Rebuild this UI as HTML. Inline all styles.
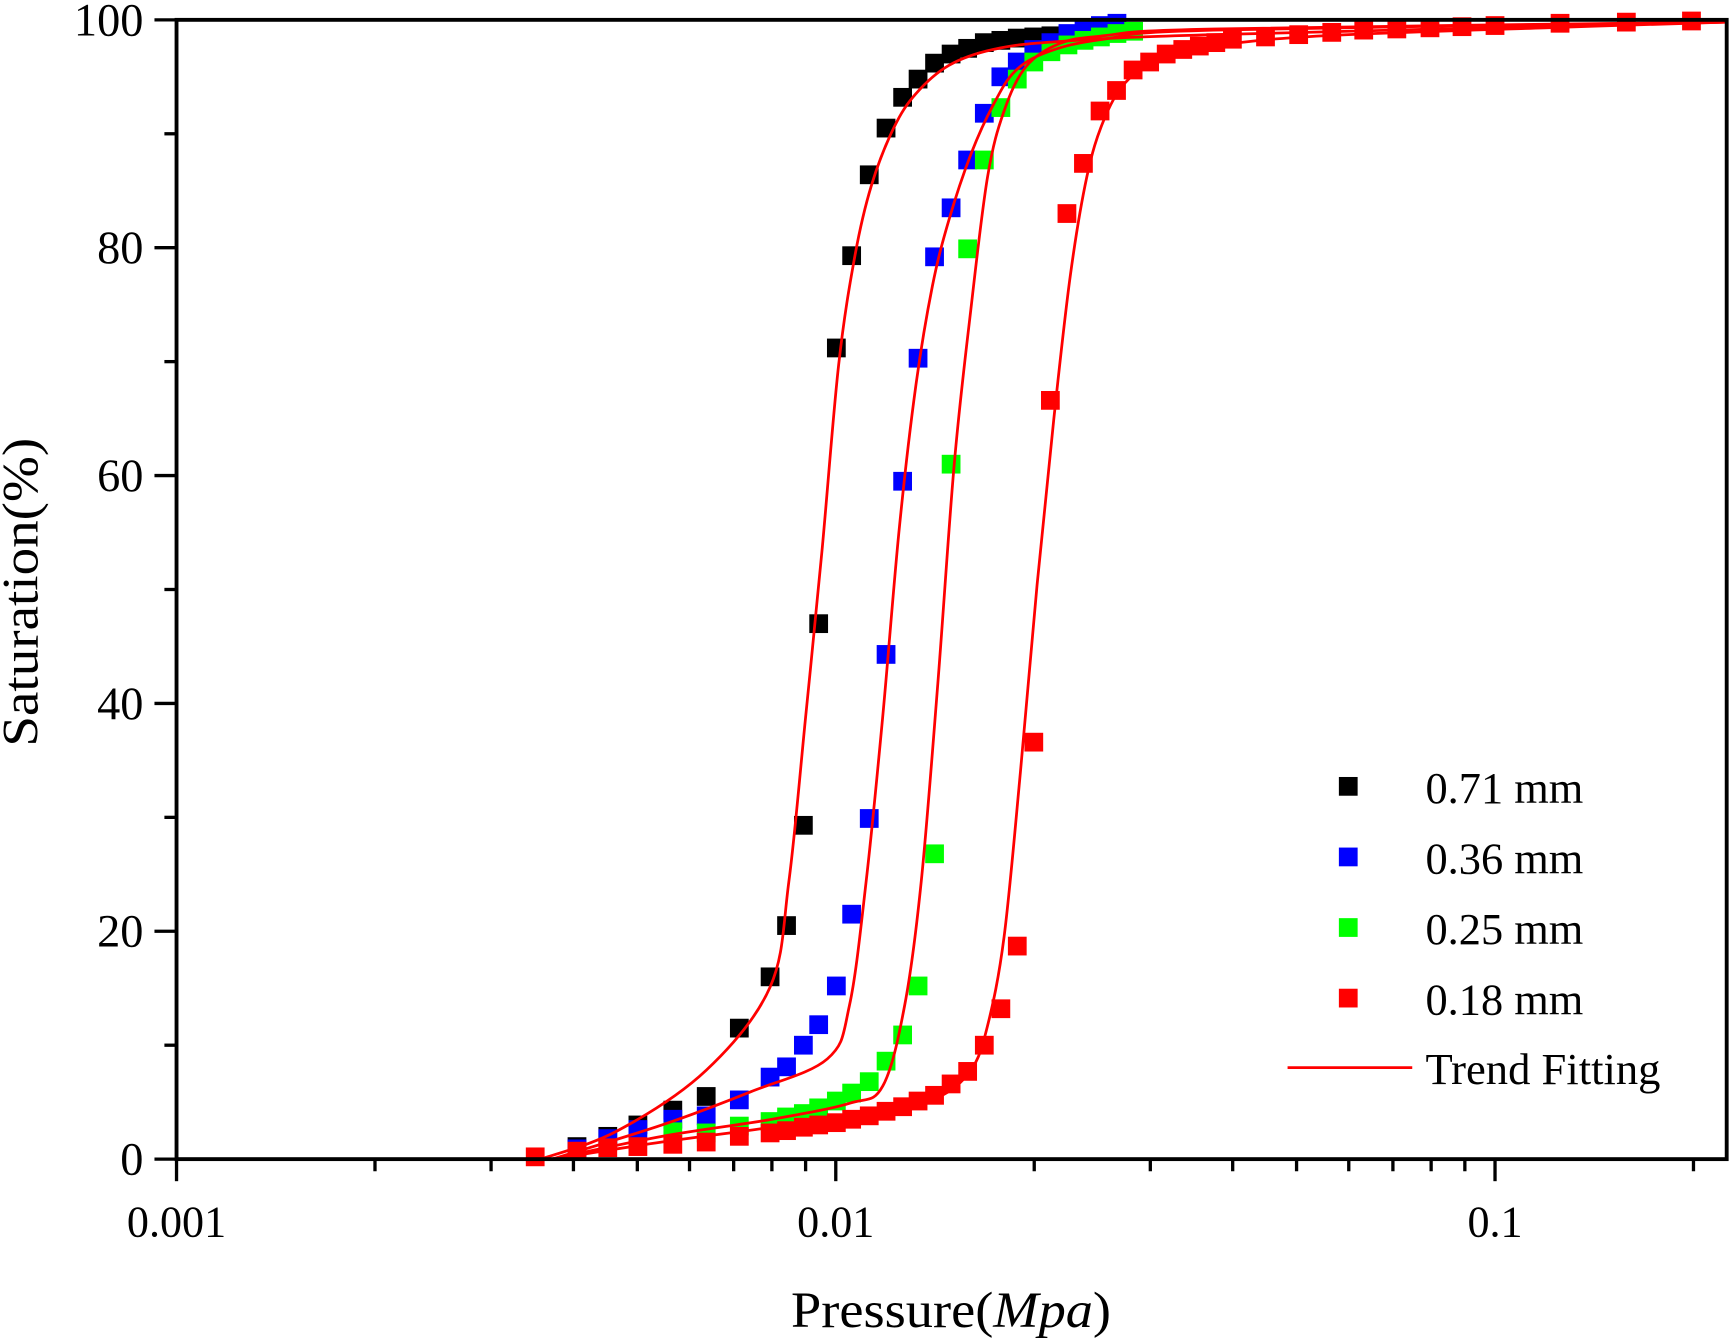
<!DOCTYPE html>
<html><head><meta charset="utf-8"><style>
html,body{margin:0;padding:0;background:#fff;}
svg{display:block;}
text{font-family:"Liberation Serif",serif;fill:#000;}
</style></head><body>
<svg id="chart" width="1730" height="1340" viewBox="0 0 1568 1215" preserveAspectRatio="none" xmlns="http://www.w3.org/2000/svg">
<g id="marks"></g>
<g id="axes"></g>
</svg>
<script>
const seriesNames=["0.71 mm","0.36 mm","0.25 mm","0.18 mm"];
const seriesColors=["#000000","#0000ff","#00ff00","#ff0000"];
const blackP=[0.00405,0.00451,0.00501,0.00566,0.00636,0.00714,0.00795,0.00842,0.00893,0.00942,0.01002,0.01057,0.01124,0.01192,0.01263,0.01333,0.01412,0.01496,0.01585,0.0168,0.0178,0.01885,0.01997,0.0212,0.0225,0.0238,0.0252];
const blackS=[1.1,2,3,4.3,5.5,11.5,16,20.5,29.3,47,71.2,79.3,86.4,90.5,93.2,94.8,96.2,97,97.5,98,98.2,98.4,98.5,98.6,98.7,98.7,98.8];
const blueP=[0.00405,0.00451,0.00501,0.00566,0.00636,0.00714,0.00795,0.00842,0.00893,0.00942,0.01002,0.01057,0.01124,0.01192,0.01263,0.01333,0.01412,0.01496,0.01585,0.0168,0.0178,0.01885,0.01997,0.0212,0.0225,0.0238,0.0252,0.0267];
const blueS=[0.9,1.8,2.6,3.5,3.8,5.2,7.2,8.1,10,11.8,15.2,21.5,29.9,44.3,59.5,70.3,79.2,83.5,87.7,91.8,95,96.3,97.4,98,98.8,99.2,99.5,99.7];
const greenP=[0.00566,0.00636,0.00714,0.00795,0.00842,0.00893,0.00942,0.01002,0.01057,0.01124,0.01192,0.01263,0.01333,0.01412,0.01496,0.01585,0.0168,0.0178,0.01885,0.01997,0.0212,0.0225,0.0238,0.0252,0.0267,0.0283];
const greenS=[2.4,2.3,2.9,3.3,3.7,4,4.5,5.1,5.8,6.8,8.6,10.9,15.2,26.8,61,79.9,87.7,92.3,94.8,96.3,97.2,97.8,98.2,98.5,98.8,99];
const redP=[0.0035,0.00405,0.00451,0.00501,0.00566,0.00636,0.00714,0.00795,0.00842,0.00893,0.00942,0.01002,0.01057,0.01124,0.01192,0.01263,0.01333,0.01412,0.01496,0.01585,0.0168,0.0178,0.01885,0.01997,0.02116,0.02242,0.02375,0.02517,0.02666,0.02825,0.02993,0.03171,0.0336,0.0356,0.03771,0.03996,0.04486,0.05037,0.05654,0.06322,0.07097,0.07968,0.08911,0.1,0.1255,0.1582,0.1986];
const redS=[0.2,0.7,1,1.1,1.3,1.5,2,2.3,2.5,2.8,3,3.2,3.5,3.8,4.2,4.6,5.1,5.6,6.6,7.7,10,13.2,18.7,36.6,66.6,83,87.4,92,93.8,95.6,96.3,97,97.4,97.7,98,98.3,98.5,98.7,98.9,99.1,99.2,99.3,99.4,99.5,99.7,99.8,99.9];
const fitBlackP=[0.00357,0.00467,0.00636,0.00795,0.00849,0.009,0.00953,0.0101,0.0107,0.01133,0.01224,0.01322,0.01484,0.01732,0.02182,0.03744,0.2246];
const fitBlackS=[0,2.5,7.8,15.1,24.4,38.8,53.4,69.7,79.4,85.5,90.5,93.5,96,97.4,98.1,98.7,99.8];
const fitBlueP=[0.00371,0.00545,0.00742,0.00971,0.01049,0.01112,0.01178,0.01248,0.01322,0.01401,0.01484,0.01603,0.01732,0.01871,0.021,0.02546,0.03744,0.2246];
const fitBlueS=[0,3,5.9,8.8,13.5,24.4,38.8,55.3,67.8,76.6,82.4,88.2,92.5,95.5,97.2,98.3,99.1,99.8];
const fitGreenP=[0.00371,0.00545,0.00801,0.01049,0.01178,0.01273,0.01348,0.01428,0.01513,0.01603,0.01699,0.018,0.01944,0.02182,0.02546,0.03744,0.2246];
const fitGreenS=[0,2,3.5,4.9,6.4,13.6,24.4,41.7,61.1,74.6,86.2,92,95.9,97.9,98.6,99.2,99.8];
const fitRedP=[0.00371,0.00545,0.00801,0.01178,0.01428,0.01603,0.01699,0.018,0.01906,0.0202,0.02141,0.02268,0.02403,0.02546,0.0275,0.03087,0.03744,0.05504,0.1189,0.2246];
const fitRedS=[0,1.5,2.8,4.2,5.4,7.8,11.7,19.5,34,50.4,64.9,77.5,86.2,91.1,94.5,96.4,97.7,98.6,99.3,99.8];
const yTicks=[0,20,40,60,80,100];
const xTicks=[0.001,0.01,0.1];
const xTickLabels=["0.001","0.01","0.1"];

const NS="http://www.w3.org/2000/svg";
const L=160,R=1565,T=18,B=1051;
const xMin=0.001,xMax=0.2246;
function xs(p){return L+(Math.log10(p)-Math.log10(xMin))/(Math.log10(xMax)-Math.log10(xMin))*(R-L);}
function ys(v){return B-v/100*(B-T);}
function mk(tag,attrs,parent){const e=document.createElementNS(NS,tag);for(const k in attrs)e.setAttribute(k,attrs[k]);parent.appendChild(e);return e;}
const marks=document.getElementById('marks');
const axes=document.getElementById('axes');

const scatter=[[blackP,blackS],[blueP,blueS],[greenP,greenS],[redP,redS]];
const fits=[[fitBlackP,fitBlackS],[fitBlueP,fitBlueS],[fitGreenP,fitGreenS],[fitRedP,fitRedS]];
const sz=17;
scatter.forEach((s,i)=>{
  const g=mk('g',{},marks);
  
  
  s[0].forEach((p,j)=>{
    const r=mk('rect',{x:xs(p)-sz/2,y:ys(s[1][j])-sz/2,width:sz,height:sz,fill:seriesColors[i]},g);
    
    
  });
});
function smooth(pts){
  let d='M'+pts[0][0]+','+pts[0][1];
  for(let i=0;i<pts.length-1;i++){
    const p0=pts[Math.max(0,i-1)],p1=pts[i],p2=pts[i+1],p3=pts[Math.min(pts.length-1,i+2)];
    const c1=[p1[0]+(p2[0]-p0[0])/6,p1[1]+(p2[1]-p0[1])/6];
    const c2=[p2[0]-(p3[0]-p1[0])/6,p2[1]-(p3[1]-p1[1])/6];
    d+=' C'+c1[0]+','+c1[1]+' '+c2[0]+','+c2[1]+' '+p2[0]+','+p2[1];
  }
  return d;
}
fits.forEach((f,i)=>{
  const pts=f[0].map((p,j)=>[xs(p),ys(f[1][j])]);
  const path=mk('path',{d:smooth(pts),fill:'none',stroke:'#ff0000','stroke-width':2.5},marks);
  
  
});

const frame=mk('rect',{x:L,y:T,width:R-L,height:B-T,fill:'none',stroke:'#000','stroke-width':3.5},axes);


for(let d=-3;d<=-1;d++){
  for(let m=1;m<=9;m++){
    const p=m*Math.pow(10,d); if(p>xMax)break;
    const x=xs(p);
    const t=mk('line',{x1:x,x2:x,y1:B,y2:B+(m===1?20:11),stroke:'#000','stroke-width':3},axes);
    
    
  }
}
xTicks.forEach((p,i)=>{
  const t=mk('text',{x:xs(p),y:B+70,'text-anchor':'middle','font-size':40},axes);
  t.textContent=xTickLabels[i];
  
  
});
for(let v=0;v<=100;v+=10){
  const y=ys(v);
  const t=mk('line',{x1:L,x2:L-(v%20===0?20:11),y1:y,y2:y,stroke:'#000','stroke-width':3},axes);
  
  
}
yTicks.forEach(v=>{
  const t=mk('text',{x:L-30,y:ys(v)+14,'text-anchor':'end','font-size':42},axes);
  t.textContent=v;
  
  
});
const xt=mk('text',{x:862,y:1203,'text-anchor':'middle','font-size':46,textLength:290,lengthAdjust:'spacingAndGlyphs'},axes);
xt.innerHTML='Pressure(<tspan font-style="italic">Mpa</tspan>)';


const yt=mk('text',{x:0,y:0,'text-anchor':'middle','font-size':46,textLength:280,lengthAdjust:'spacingAndGlyphs',transform:'translate(34,537) rotate(-90)'},axes);
yt.textContent='Saturation(%)';


const lg=mk('g',{},axes);


seriesNames.forEach((n,i)=>{
  const y=713+i*64;
  const r=mk('rect',{x:1222-sz/2,y:y-sz/2,width:sz,height:sz,fill:seriesColors[i]},lg);
  
  
  const t=mk('text',{x:1292,y:y+15,'font-size':40,textLength:143,lengthAdjust:'spacingAndGlyphs'},lg);
  t.textContent=n;
  
  
});
const ll=mk('line',{x1:1167,x2:1280,y1:968,y2:968,stroke:'#ff0000','stroke-width':2.5},lg);


const lt=mk('text',{x:1292,y:983,'font-size':40,textLength:213,lengthAdjust:'spacingAndGlyphs'},lg);
lt.textContent='Trend Fitting';


</script>
</body></html>
